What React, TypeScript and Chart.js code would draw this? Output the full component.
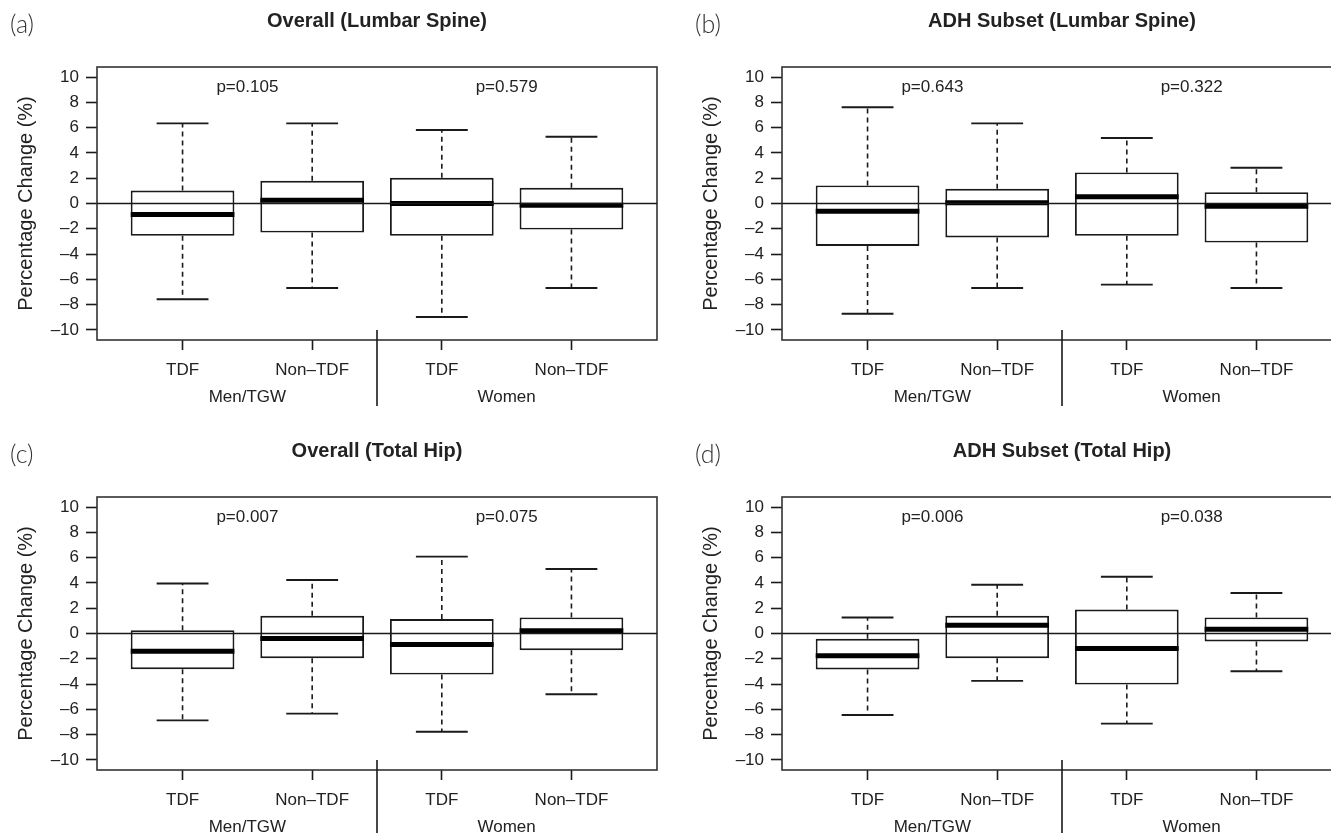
import React, { useEffect, useRef } from 'react';
import { Chart, registerables } from 'chart.js';

Chart.register(...registerables);

const FONT = "'Liberation Sans', Arial, Helvetica, sans-serif";
const TEXT = '#222';
const LINE = '#1a1a1a';

const CATEGORIES = ['TDF', 'Non\u2013TDF', 'TDF', 'Non\u2013TDF'];
const CATEGORY_X = [1, 2, 3, 4];
const GROUPS = ['Men/TGW', 'Women'];
const GROUP_X = [1.5, 3.5];
const DIVIDER_X = 2.5;
const Y_TICKS = [-10, -8, -6, -4, -2, 0, 2, 4, 6, 8, 10];
const Y_MIN = -10.8;
const Y_MAX = 10.8;
const X_MIN = 0.34;
const X_MAX = 4.66;
const P_Y = 9.3;
const Y_TITLE = 'Percentage Change (%)';

// (a) Overall (Lumbar Spine)
const A_LOW = [-7.58, -6.68, -8.98, -6.68];
const A_Q1 = [-2.56, -2.3, -2.56, -2.06];
const A_MED = [-0.87, 0.26, 0.0, -0.13];
const A_Q3 = [1.03, 1.8, 2.03, 1.24];
const A_HIGH = [6.34, 6.34, 5.81, 5.28];
const A_P = ['p=0.105', 'p=0.579'];

// (b) ADH Subset (Lumbar Spine)
const B_LOW = [-8.72, -6.68, -6.42, -6.68];
const B_Q1 = [-3.36, -2.69, -2.56, -3.09];
const B_MED = [-0.61, 0.05, 0.53, -0.21];
const B_Q3 = [1.43, 1.16, 2.46, 0.9];
const B_HIGH = [7.61, 6.34, 5.18, 2.83];
const B_P = ['p=0.643', 'p=0.322'];

// (c) Overall (Total Hip)
const C_LOW = [-6.87, -6.34, -7.77, -4.81];
const C_Q1 = [-2.83, -1.96, -3.25, -1.32];
const C_MED = [-1.4, -0.4, -0.87, 0.21];
const C_Q3 = [0.26, 1.4, 1.14, 1.27];
const C_HIGH = [3.96, 4.23, 6.08, 5.1];
const C_P = ['p=0.007', 'p=0.075'];

// (d) ADH Subset (Total Hip)
const D_LOW = [-6.45, -3.75, -7.13, -2.99];
const D_Q1 = [-2.85, -1.96, -4.04, -0.63];
const D_MED = [-1.77, 0.66, -1.19, 0.34];
const D_Q3 = [-0.42, 1.4, 1.9, 1.27];
const D_HIGH = [1.27, 3.86, 4.49, 3.2];
const D_P = ['p=0.006', 'p=0.038'];

const CANVAS_W = 680;
const CANVAS_H = 430;

type PanelProps = {
  left: number;
  top: number;
  label: string;
  title: string;
  low: number[];
  q1: number[];
  med: number[];
  q3: number[];
  high: number[];
  pvals: string[];
};

function Panel(props: PanelProps) {
  const ref = useRef<HTMLCanvasElement | null>(null);

  useEffect(() => {
    const canvas = ref.current;
    if (!canvas) return;
    const { label, title, low, q1, med, q3, high, pvals } = props;

    const extras = {
      id: 'boxExtras',
      afterDatasetsDraw(chart: any) {
        const ctx = chart.ctx as CanvasRenderingContext2D;
        const area = chart.chartArea;
        const xs = chart.scales.x;
        const ys = chart.scales.y;
        const meta = chart.getDatasetMeta(0);
        ctx.save();

        // frame
        ctx.strokeStyle = '#333';
        ctx.lineWidth = 1.6;
        ctx.setLineDash([]);
        ctx.strokeRect(area.left, area.top, area.right - area.left, area.bottom - area.top);

        for (let i = 0; i < CATEGORY_X.length; i++) {
          const el = meta.data[i] as any;
          const xc = xs.getPixelForValue(CATEGORY_X[i]);
          const w = el.width;
          // whiskers (dashed)
          ctx.strokeStyle = LINE;
          ctx.lineWidth = 1.6;
          ctx.setLineDash([5, 4]);
          ctx.beginPath();
          ctx.moveTo(xc, ys.getPixelForValue(q3[i]));
          ctx.lineTo(xc, ys.getPixelForValue(high[i]));
          ctx.moveTo(xc, ys.getPixelForValue(q1[i]));
          ctx.lineTo(xc, ys.getPixelForValue(low[i]));
          ctx.stroke();
          // caps
          ctx.setLineDash([]);
          ctx.lineWidth = 1.9;
          ctx.beginPath();
          ctx.moveTo(xc - w / 4, ys.getPixelForValue(high[i]));
          ctx.lineTo(xc + w / 4, ys.getPixelForValue(high[i]));
          ctx.moveTo(xc - w / 4, ys.getPixelForValue(low[i]));
          ctx.lineTo(xc + w / 4, ys.getPixelForValue(low[i]));
          ctx.stroke();
          // median
          ctx.lineWidth = 5;
          ctx.strokeStyle = '#000';
          ctx.beginPath();
          ctx.moveTo(xc - w / 2, ys.getPixelForValue(med[i]));
          ctx.lineTo(xc + w / 2, ys.getPixelForValue(med[i]));
          ctx.stroke();
        }

        // zero reference line
        ctx.strokeStyle = LINE;
        ctx.lineWidth = 1.6;
        ctx.beginPath();
        ctx.moveTo(area.left, ys.getPixelForValue(0));
        ctx.lineTo(area.right, ys.getPixelForValue(0));
        ctx.stroke();

        // group divider
        const dx = xs.getPixelForValue(DIVIDER_X);
        ctx.beginPath();
        ctx.moveTo(dx, ys.getPixelForValue(-10));
        ctx.lineTo(dx, area.bottom + 66);
        ctx.stroke();

        // texts
        ctx.fillStyle = TEXT;
        ctx.textAlign = 'center';
        ctx.textBaseline = 'middle';
        ctx.font = `17px ${FONT}`;
        for (let g = 0; g < GROUP_X.length; g++) {
          ctx.fillText(pvals[g], xs.getPixelForValue(GROUP_X[g]), ys.getPixelForValue(P_Y) + 1);
          ctx.fillText(GROUPS[g], xs.getPixelForValue(GROUP_X[g]), area.bottom + 57);
        }
        ctx.font = `bold 20px ${FONT}`;
        ctx.fillText(title, (area.left + area.right) / 2, 21);
        ctx.textAlign = 'left';
        ctx.font = `300 25px Lato, 'Open Sans', 'Noto Sans', sans-serif`;
        ctx.fillStyle = '#333';
        ctx.fillText(label, 10, 25);
        ctx.restore();
      },
    };

    const chart = new Chart(canvas, {
      type: 'bar',
      data: {
        datasets: [
          {
            data: CATEGORY_X.map((x, i) => ({ x, y: [q1[i], q3[i]] })) as any,
            backgroundColor: '#ffffff',
            borderColor: LINE,
            borderWidth: 1.9,
            borderSkipped: false,
            barPercentage: 0.8,
            categoryPercentage: 1,
          } as any,
        ],
      },
      options: {
        animation: false,
        responsive: false,
        maintainAspectRatio: false,
        devicePixelRatio: 1,
        layout: { padding: { left: 0, top: 67, right: CANVAS_W - 657, bottom: CANVAS_H - 340 - 60 } },
        plugins: {
          legend: { display: false },
          tooltip: { enabled: false },
          title: { display: false },
        },
        scales: {
          x: {
            type: 'linear',
            min: X_MIN,
            max: X_MAX,
            offset: false,
            border: { display: false },
            grid: {
              offset: false,
              drawOnChartArea: false,
              drawTicks: true,
              tickLength: 10,
              tickColor: LINE,
              tickWidth: 1.6,
            },
            ticks: {
              autoSkip: false,
              maxRotation: 0,
              minRotation: 0,
              padding: 10,
              color: TEXT,
              font: { family: FONT, size: 17 },
              callback: (v: any) => {
                const idx = CATEGORY_X.indexOf(Number(v));
                return idx >= 0 ? CATEGORIES[idx] : '';
              },
            },
            afterBuildTicks: (s: any) => {
              s.ticks = CATEGORY_X.map((v) => ({ value: v }));
            },
            afterFit: (s: any) => {
              s.height = 60;
            },
          } as any,
          y: {
            type: 'linear',
            min: Y_MIN,
            max: Y_MAX,
            border: { display: false },
            grid: {
              drawOnChartArea: false,
              drawTicks: true,
              tickLength: 11,
              tickColor: LINE,
              tickWidth: 1.6,
            },
            ticks: {
              padding: 7,
              color: TEXT,
              font: { family: FONT, size: 17 },
              callback: (v: any) => (Number(v) < 0 ? '\u2013' + Math.abs(Number(v)) : String(v)),
            },
            title: {
              display: true,
              text: Y_TITLE,
              color: TEXT,
              font: { family: FONT, size: 20 },
              padding: { top: 14, bottom: 0 },
            },
            afterBuildTicks: (s: any) => {
              s.ticks = Y_TICKS.map((v) => ({ value: v }));
            },
            afterFit: (s: any) => {
              s.width = 97;
            },
          } as any,
        },
      },
      plugins: [extras],
    });

    return () => {
      chart.destroy();
    };
  }, []);

  return (
    <canvas
      ref={ref}
      width={CANVAS_W}
      height={CANVAS_H}
      style={{ position: 'absolute', left: props.left, top: props.top, width: CANVAS_W, height: CANVAS_H }}
    />
  );
}

export default function App() {
  return (
    <div
      style={{
        position: 'fixed',
        left: 0,
        top: 0,
        width: 1331,
        height: 833,
        overflow: 'hidden',
        background: '#fff',
      }}
    >
      <Panel left={0} top={0} label="(a)" title="Overall (Lumbar Spine)" low={A_LOW} q1={A_Q1} med={A_MED} q3={A_Q3} high={A_HIGH} pvals={A_P} />
      <Panel left={685} top={0} label="(b)" title="ADH Subset (Lumbar Spine)" low={B_LOW} q1={B_Q1} med={B_MED} q3={B_Q3} high={B_HIGH} pvals={B_P} />
      <Panel left={0} top={430} label="(c)" title="Overall (Total Hip)" low={C_LOW} q1={C_Q1} med={C_MED} q3={C_Q3} high={C_HIGH} pvals={C_P} />
      <Panel left={685} top={430} label="(d)" title="ADH Subset (Total Hip)" low={D_LOW} q1={D_Q1} med={D_MED} q3={D_Q3} high={D_HIGH} pvals={D_P} />
    </div>
  );
}
